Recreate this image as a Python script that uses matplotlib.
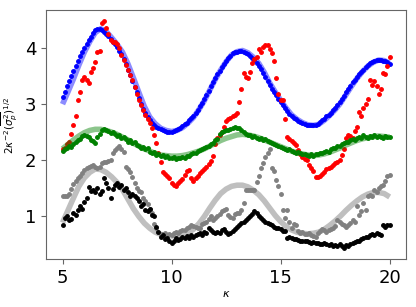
import numpy as np
import matplotlib
matplotlib.use("Agg")
import matplotlib.pyplot as plt

# kappa grid of the measured points and of the model curves
kappa = np.linspace(5, 20, 151)
kappa_th = np.linspace(5, 20, 61)

blue_pts = [
    3.12, 3.22, 3.32, 3.42, 3.51, 3.60, 3.69, 3.78, 3.86, 3.93,
    4.01, 4.08, 4.15, 4.21, 4.27, 4.32, 4.35, 4.35, 4.33, 4.30,
    4.26, 4.22, 4.17, 4.12, 4.07, 4.02, 3.96, 3.89, 3.81, 3.72,
    3.62, 3.52, 3.41, 3.31, 3.21, 3.11, 3.01, 2.92, 2.84, 2.77,
    2.72, 2.67, 2.63, 2.60, 2.57, 2.55, 2.54, 2.52, 2.51, 2.51,
    2.50, 2.52, 2.54, 2.56, 2.58, 2.61, 2.64, 2.67, 2.71, 2.75,
    2.79, 2.84, 2.90, 2.96, 3.02, 3.09, 3.16, 3.24, 3.32, 3.40,
    3.47, 3.54, 3.60, 3.66, 3.72, 3.78, 3.83, 3.87, 3.91, 3.93,
    3.94, 3.95, 3.95, 3.94, 3.92, 3.89, 3.86, 3.83, 3.79, 3.74,
    3.69, 3.63, 3.56, 3.48, 3.41, 3.34, 3.28, 3.22, 3.16, 3.10,
    3.04, 2.98, 2.93, 2.88, 2.83, 2.79, 2.76, 2.73, 2.70, 2.68,
    2.66, 2.64, 2.63, 2.62, 2.62, 2.62, 2.63, 2.65, 2.68, 2.71,
    2.74, 2.78, 2.81, 2.85, 2.89, 2.93, 2.98, 3.03, 3.09, 3.15,
    3.21, 3.27, 3.33, 3.39, 3.44, 3.49, 3.54, 3.58, 3.62, 3.66,
    3.70, 3.73, 3.76, 3.78, 3.79, 3.79, 3.79, 3.78, 3.77, 3.75,
    3.72,
]

red_pts = [
    2.20, 2.22, 2.28, 2.33, 2.46, 2.62, 2.79, 3.07, 3.22, 3.43,
    3.49, 3.43, 3.38, 3.58, 3.64, 3.76, 3.93, 3.96, 4.46, 4.48,
    4.36, 4.25, 4.14, 4.12, 4.11, 4.08, 4.00, 3.88, 3.79, 3.70,
    3.62, 3.52, 3.43, 3.30, 3.18, 3.08, 2.98, 2.90, 2.80, 2.74,
    2.66, 2.58, 2.45, 2.30, 2.12, 1.97, 1.79, 1.75, 1.72, 1.68,
    1.59, 1.56, 1.53, 1.59, 1.62, 1.66, 1.74, 1.80, 1.83, 1.68,
    1.62, 1.68, 1.72, 1.76, 1.80, 1.84, 1.88, 1.93, 1.99, 2.08,
    2.28, 2.40, 2.45, 2.51, 2.60, 2.70, 2.73, 2.75, 2.78, 2.81,
    2.84, 3.04, 3.28, 3.56, 3.48, 3.46, 3.58, 3.73, 3.80, 3.85,
    3.98, 3.93, 4.02, 4.05, 4.05, 3.98, 3.91, 3.77, 3.46, 3.19,
    3.07, 3.07, 2.73, 2.42, 2.38, 2.34, 2.30, 2.27, 2.18, 2.10,
    2.06, 2.02, 2.00, 1.92, 1.86, 1.80, 1.70, 1.69, 1.72, 1.75,
    1.78, 1.84, 1.86, 1.88, 1.92, 1.94, 1.96, 2.00, 2.09, 2.20,
    2.40, 2.45, 2.43, 2.40, 2.52, 2.60, 2.86, 2.78, 2.93, 3.01,
    3.10, 3.43, 3.34, 3.42, 3.32, 3.19, 3.28, 3.55, 3.54, 3.68,
    3.85,
]

green_pts = [
    2.17, 2.20, 2.22, 2.25, 2.24, 2.29, 2.33, 2.36, 2.38, 2.43,
    2.45, 2.43, 2.41, 2.36, 2.34, 2.30, 2.41, 2.47, 2.53, 2.56,
    2.54, 2.52, 2.49, 2.51, 2.46, 2.43, 2.45, 2.40, 2.42, 2.37,
    2.33, 2.35, 2.30, 2.32, 2.27, 2.25, 2.21, 2.23, 2.19, 2.21,
    2.15, 2.12, 2.14, 2.09, 2.10, 2.07, 2.09, 2.05, 2.08, 2.04,
    2.03, 2.05, 2.02, 2.04, 2.03, 2.05, 2.04, 2.07, 2.08, 2.10,
    2.12, 2.13, 2.16, 2.18, 2.20, 2.22, 2.24, 2.26, 2.28, 2.30,
    2.35, 2.38, 2.46, 2.50, 2.52, 2.54, 2.53, 2.56, 2.57, 2.59,
    2.58, 2.57, 2.54, 2.51, 2.47, 2.45, 2.44, 2.41, 2.43, 2.40,
    2.38, 2.40, 2.36, 2.37, 2.34, 2.33, 2.30, 2.29, 2.27, 2.25,
    2.24, 2.22, 2.19, 2.18, 2.20, 2.16, 2.15, 2.13, 2.14, 2.12,
    2.10, 2.11, 2.09, 2.07, 2.10, 2.08, 2.11, 2.10, 2.13, 2.12,
    2.14, 2.16, 2.15, 2.19, 2.21, 2.22, 2.25, 2.26, 2.28, 2.31,
    2.33, 2.32, 2.36, 2.37, 2.35, 2.40, 2.42, 2.39, 2.44, 2.41,
    2.40, 2.43, 2.42, 2.44, 2.41, 2.43, 2.42, 2.40, 2.43, 2.42,
    2.41,
]

grey_pts = [
    1.35, 1.36, 1.35, 1.40, 1.48, 1.58, 1.62, 1.67, 1.72, 1.77,
    1.83, 1.85, 1.88, 1.90, 1.92, 1.88, 1.86, 1.88, 1.95, 1.97,
    1.96, 1.98, 2.00, 2.12, 2.18, 2.21, 2.25, 2.20, 2.15, 1.88,
    1.84, 1.78, 1.70, 1.59, 1.50, 1.44, 1.42, 1.32, 1.27, 1.22,
    1.12, 1.05, 0.85, 0.78, 0.72, 0.67, 0.68, 0.70, 0.66, 0.68,
    0.65, 0.70, 0.72, 0.70, 0.73, 0.75, 0.74, 0.78, 0.80, 0.84,
    0.82, 0.80, 0.78, 0.79, 0.85, 0.88, 0.90, 0.95, 0.99, 0.93,
    0.97, 1.00, 1.03, 1.08, 1.11, 1.13, 1.02, 0.98, 0.96, 1.04,
    1.06, 1.05, 1.11, 1.23, 1.47, 1.47, 1.47, 1.46, 1.46, 1.60,
    1.71, 1.86, 1.95, 2.05, 2.12, 2.20, 1.86, 1.80, 1.65, 1.53,
    1.40, 1.11, 0.96, 1.11, 0.90, 0.79, 0.86, 0.84, 0.73, 0.70,
    0.72, 0.68, 0.67, 0.70, 0.66, 0.64, 0.63, 0.70, 0.73, 0.76,
    0.74, 0.72, 0.75, 0.76, 0.79, 0.82, 0.93, 0.90, 0.86, 0.83,
    0.81, 0.84, 0.87, 0.92, 0.89, 1.17, 1.02, 1.08, 1.23, 1.11,
    1.35, 1.38, 1.36, 1.47, 1.42, 1.50, 1.53, 1.56, 1.62, 1.71,
    1.74,
]

black_pts = [
    0.83, 0.97, 0.99, 0.92, 0.95, 1.05, 1.02, 1.10, 1.17, 1.13,
    1.25, 1.32, 1.51, 1.45, 1.47, 1.42, 1.50, 1.39, 1.45, 1.68,
    1.59, 1.50, 1.32, 1.48, 1.56, 1.59, 1.51, 1.55, 1.46, 1.50,
    1.42, 1.35, 1.40, 1.35, 1.32, 1.26, 1.17, 1.22, 1.11, 1.08,
    1.12, 1.02, 0.99, 0.81, 0.72, 0.63, 0.65, 0.58, 0.61, 0.56,
    0.52, 0.56, 0.60, 0.57, 0.59, 0.62, 0.60, 0.64, 0.61, 0.66,
    0.63, 0.65, 0.68, 0.70, 0.66, 0.72, 0.70, 0.79, 0.74, 0.72,
    0.70, 0.72, 0.70, 0.74, 0.76, 0.72, 0.67, 0.70, 0.73, 0.76,
    0.80, 0.84, 0.88, 0.90, 0.93, 0.96, 0.99, 1.04, 1.09, 1.06,
    0.99, 0.97, 0.92, 0.90, 0.88, 0.85, 0.84, 0.81, 0.79, 0.78,
    0.76, 0.73, 0.73, 0.61, 0.62, 0.60, 0.59, 0.58, 0.57, 0.56,
    0.55, 0.56, 0.55, 0.54, 0.52, 0.53, 0.51, 0.52, 0.50, 0.49,
    0.51, 0.49, 0.48, 0.50, 0.47, 0.48, 0.47, 0.49, 0.46, 0.43,
    0.48, 0.47, 0.50, 0.52, 0.54, 0.56, 0.55, 0.58, 0.61, 0.63,
    0.62, 0.66, 0.68, 0.66, 0.70, 0.68, 0.66, 0.84, 0.80, 0.84,
    0.83,
]

# model curves (thick pale lines)
blue_th = [
    3.00, 3.22, 3.45, 3.70, 3.93, 4.12, 4.28, 4.35, 4.30, 4.19,
    4.07, 3.93, 3.72, 3.47, 3.21, 2.96, 2.77, 2.65, 2.57, 2.53,
    2.51, 2.53, 2.58, 2.66, 2.76, 2.90, 3.06, 3.25, 3.44, 3.61,
    3.76, 3.88, 3.94, 3.96, 3.92, 3.84, 3.73, 3.57, 3.38, 3.22,
    3.07, 2.93, 2.81, 2.73, 2.67, 2.63, 2.62, 2.64, 2.71, 2.80,
    2.90, 3.02, 3.17, 3.32, 3.46, 3.58, 3.68, 3.75, 3.79, 3.78,
    3.73,
]

green_th = [
    2.20, 2.28, 2.36, 2.43, 2.49, 2.53, 2.55, 2.55, 2.53, 2.50,
    2.46, 2.41, 2.36, 2.30, 2.25, 2.20, 2.16, 2.12, 2.09, 2.08,
    2.07, 2.07, 2.08, 2.10, 2.13, 2.16, 2.20, 2.25, 2.30, 2.35,
    2.39, 2.42, 2.45, 2.46, 2.45, 2.43, 2.40, 2.36, 2.32, 2.28,
    2.24, 2.20, 2.16, 2.13, 2.11, 2.09, 2.08, 2.09, 2.11, 2.14,
    2.18, 2.22, 2.27, 2.31, 2.35, 2.38, 2.40, 2.42, 2.43, 2.42,
    2.41,
]

grey_th = [
    0.88, 1.10, 1.32, 1.53, 1.68, 1.78, 1.84, 1.83, 1.78, 1.70,
    1.60, 1.47, 1.30, 1.13, 0.99, 0.87, 0.78, 0.71, 0.67, 0.65,
    0.64, 0.64, 0.66, 0.70, 0.76, 0.86, 0.99, 1.14, 1.28, 1.40,
    1.48, 1.53, 1.55, 1.55, 1.52, 1.46, 1.38, 1.27, 1.14, 1.01,
    0.90, 0.81, 0.75, 0.71, 0.69, 0.68, 0.69, 0.71, 0.76, 0.83,
    0.91, 1.00, 1.10, 1.19, 1.27, 1.34, 1.39, 1.42, 1.42, 1.40,
    1.34,
]

fig = plt.figure(figsize=(4.16, 3.07), dpi=100)
ax = fig.add_axes([0.111, 0.156, 0.865, 0.811])

ms = 5
ax.plot(kappa_th, blue_th, color="blue", alpha=0.45, lw=4, solid_capstyle="butt")
ax.plot(kappa, blue_pts, ".", color="blue", ms=ms)
ax.plot(kappa, red_pts, ".", color="red", ms=ms)
ax.plot(kappa_th, green_th, color="green", alpha=0.45, lw=4, solid_capstyle="butt")
ax.plot(kappa, green_pts, ".", color="green", ms=ms)
ax.plot(kappa_th, grey_th, color="grey", alpha=0.5, lw=4, solid_capstyle="butt")
ax.plot(kappa, grey_pts, ".", color="grey", ms=ms)
ax.plot(kappa, black_pts, ".", color="black", ms=ms)

ax.set_xticks([5, 10, 15, 20])
ax.set_yticks([1, 2, 3, 4])
ax.tick_params(labelsize=13, color="0.4")
for sp in ax.spines.values():
    sp.set_color("0.4")
ax.set_xlabel(r"$\kappa$", fontsize=8)
ax.set_ylabel(r"$2\kappa^{-2}(\overline{\sigma_p^2})^{1/2}$", fontsize=7.5)
ax.yaxis.set_label_coords(-0.072, 0.535)
ax.xaxis.set_label_coords(0.5, -0.12)

fig.savefig("out.png", dpi=100)
